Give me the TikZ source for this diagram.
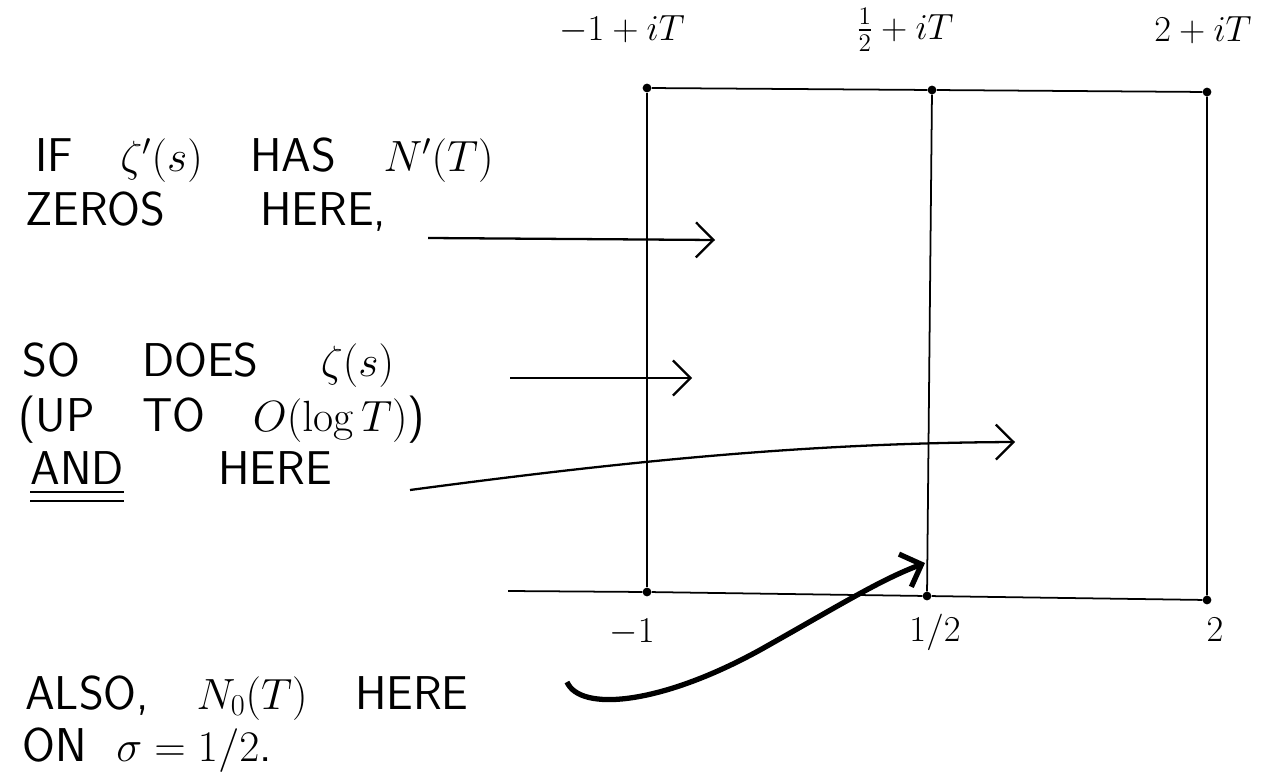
\documentclass[tikz,border=0pt]{standalone}
\usepackage{amsmath,amssymb}
\usepackage{tikz}
\usetikzlibrary{arrows.meta}
\tikzset{>={Straight Barb[length=3.5mm,width=7mm]}}

\begin{document}
\begin{tikzpicture}[x=0.02cm,y=-0.02cm,
    note/.style={anchor=west,inner sep=0pt,font=\fontsize{27}{31}\selectfont\sffamily},
    lbl/.style={inner sep=0pt,font=\fontsize{21}{25}\selectfont\sffamily},
    pen/.style={line width=1pt},
    ink/.style={line width=1.3pt},
    dot/.style={circle,fill,inner sep=0pt,minimum size=5pt}]
    \useasboundingbox (0,0) rectangle (1270,780);
    % corners of the strip
    \node[dot] (tl) at (647,88) {};
    \node[dot] (tm) at (932,90) {};
    \node[dot] (tr) at (1207,92) {};
    \node[dot] (bl) at (647,592) {};
    \node[dot] (bm) at (927,596) {};
    \node[dot] (br) at (1207,600) {};
    \coordinate (ax) at (508,591);
    \draw[pen] (tl) -- (tm) -- (tr) -- (br);
    \draw[pen] (tl) -- (bl);
    \draw[pen] (tm) -- (bm);
    \draw[pen] (ax) -- (bl) -- (bm) -- (br);
    % labels on the corners
    \node[lbl] (ltl) at (622,30) {$-1+iT$};
    \node[lbl] (ltm) at (905,30) {$\tfrac12+iT$};
    \node[lbl] (ltr) at (1203,30) {$2+iT$};
    \node[lbl] (lbl) at (632,632) {$-1$};
    \node[lbl] (lbm) at (935,632) {$1/2$};
    \node[lbl] (lbr) at (1215,630) {$2$};
    % the notes on the left
    \node[note] (if) at (35,160) {IF\quad $\zeta'(s)$\quad HAS\quad $N'(T)$};
    \node[note] (zeros) at (25,212) {ZEROS\qquad HERE,};
    \node[note] (so) at (22,365) {SO\quad\ DOES\quad\ $\zeta(s)$};
    \node[note] (upto) at (18,420) {(UP\quad TO\quad $O(\log T)$)};
    \node[note] (and) at (30,478) {$\underline{\underline{\text{AND}}}$\qquad HERE};
    \node[note] (also) at (25,698) {ALSO,\quad $N_0(T)$\quad HERE};
    \node[note] (on) at (22,750) {ON\ \ $\sigma=1/2$.};
    % arrows into the strip
    \coordinate (z1) at (428,238);
    \coordinate (z2) at (715,240);
    \draw[ink,->] (z1) -- (z2);
    \coordinate (s1) at (510,378);
    \draw[ink,->] (s1) -- (692,378);
    \coordinate (h1) at (410,490);
    \coordinate (h2) at (1015,442);
    \draw[ink,->] (h1) .. controls (650,458) and (820,443) .. (h2);
    \coordinate (o1) at (567,682);
    \coordinate (o2) at (925,563);
    \draw[line width=3pt,->] (o1) .. controls (580,712) and (660,705) .. (760,650)
        .. controls (840,605) and (880,580) .. (o2);
\end{tikzpicture}
\end{document}
